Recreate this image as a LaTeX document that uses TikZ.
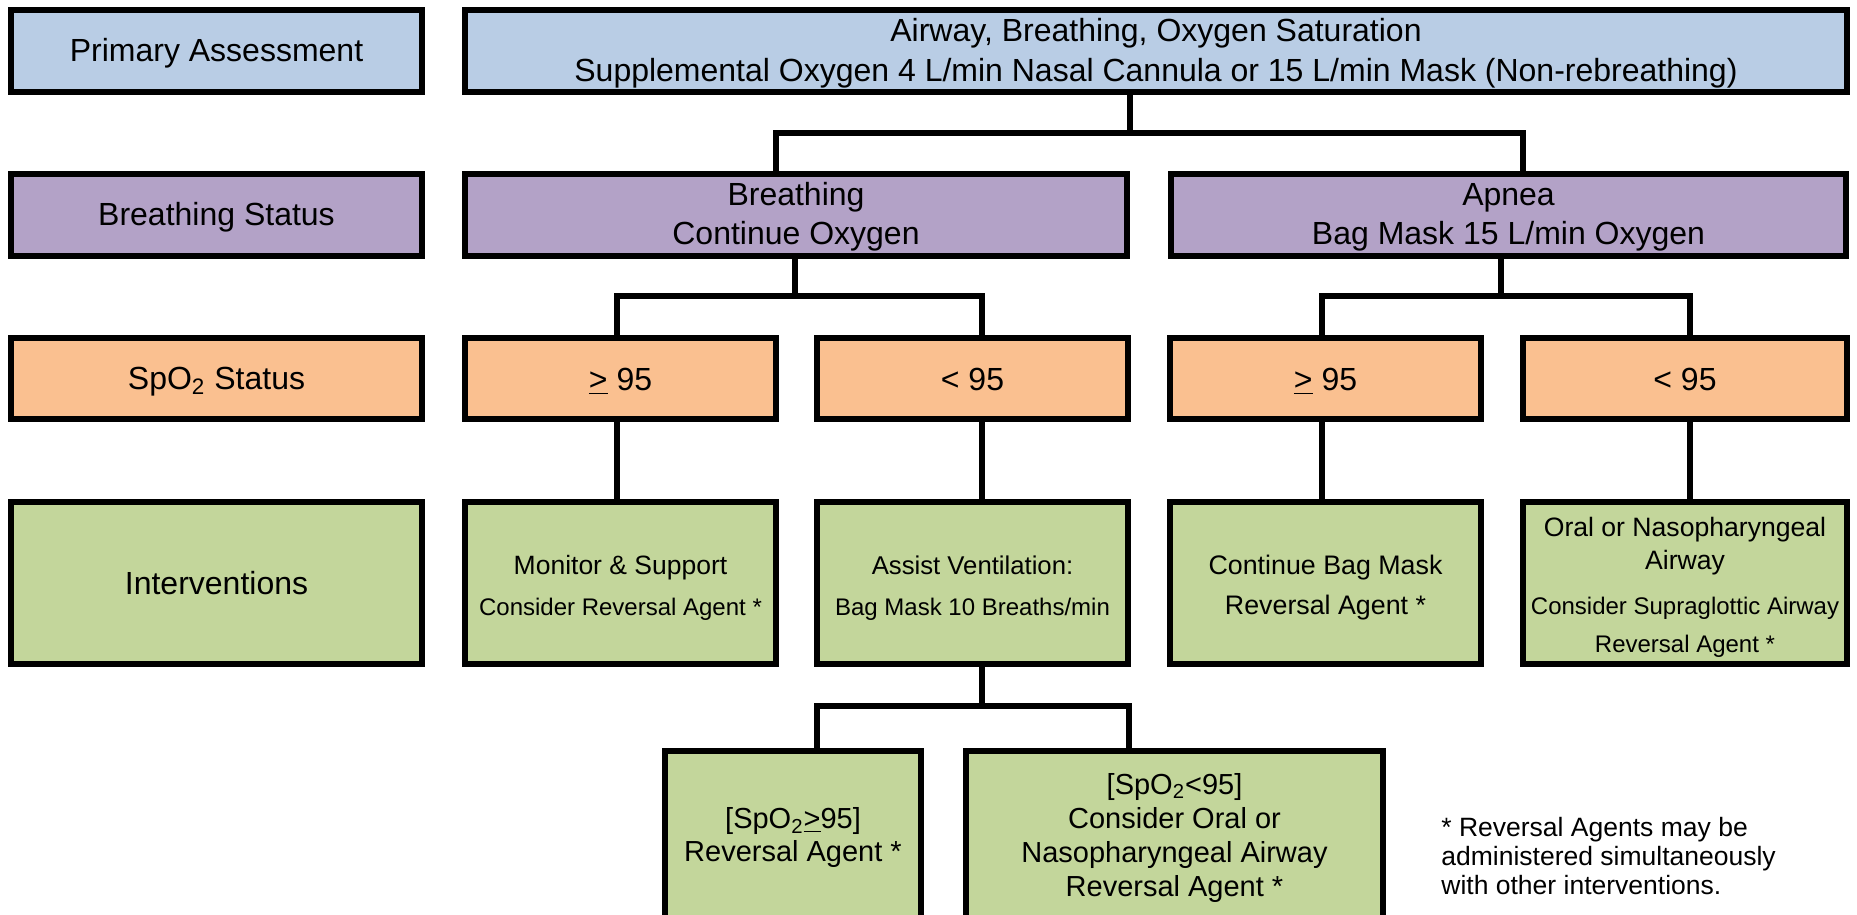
\documentclass[tikz,border=0pt]{standalone}
\usepackage{fontspec}
\setmainfont{Liberation Sans}
\definecolor{cblue}{HTML}{B9CDE5}
\definecolor{cpurple}{HTML}{B3A2C7}
\definecolor{corange}{HTML}{FAC090}
\definecolor{cgreen}{HTML}{C3D69B}
\newcommand{\fs}[2]{\fontsize{#1}{#2}\selectfont}
\newcommand{\tstrut}[1]{\rule{0pt}{#1}}
\newcommand{\bstrut}[1]{\rule[-#1]{0pt}{#1}}
\begin{document}
\begin{tikzpicture}[x=0.5pt,y=-0.5pt,
  box/.style={draw=black, line width=3pt, inner sep=0pt, align=center, font=\fs{16}{19.5}},
  bluebox/.style={box, fill=cblue, minimum height=41pt},
  purbox/.style={box, fill=cpurple, minimum height=41pt},
  orbox/.style={box, fill=corange, minimum height=40.5pt},
  grbox/.style={box, fill=cgreen, minimum height=81pt},
  lowbox/.style={box, fill=cgreen, minimum height=84pt},
  conn/.style={draw=black, line width=2.6pt, line join=miter}]
\clip (0,0) rectangle (1857,915);
\fill[white] (0,0) rectangle (1857,915);

% row 1
\node[bluebox, minimum width=205.5pt] (pa) at (216.5,51) {\tstrut{14.6pt}\bstrut{4pt}Primary Assessment};
\node[bluebox, minimum width=691pt, font=\fs{16}{20}] (top) at (1156,51)
  {\tstrut{14.7pt}Airway, Breathing, Oxygen Saturation\\Supplemental Oxygen 4 L/min Nasal Cannula or 15 L/min Mask (Non-rebreathing)\bstrut{4pt}};

% row 2
\node[purbox, minimum width=205.5pt] (bs) at (216.5,215) {\tstrut{14.6pt}\bstrut{4pt}Breathing Status};
\node[purbox, minimum width=331pt] (brth) at (796,215) {\tstrut{13.5pt}Breathing\\Continue Oxygen\bstrut{4pt}};
\node[purbox, minimum width=337.5pt] (apn) at (1508.5,215) {\tstrut{13.5pt}Apnea\\Bag Mask 15 L/min Oxygen\bstrut{4pt}};

% row 3
\node[orbox, minimum width=205.5pt] (ss) at (216.5,378.5) {\tstrut{15.2pt}\bstrut{4pt}SpO\textsubscript{2} Status};
\node[orbox, minimum width=155.5pt] (bge) at (620.5,378.5) {\tstrut{15.8pt}\bstrut{4pt}\underline{>} 95};
\node[orbox, minimum width=155.5pt] (blt) at (972.5,378.5) {\tstrut{15.8pt}\bstrut{4pt}< 95};
\node[orbox, minimum width=155.5pt] (age) at (1325.5,378.5) {\tstrut{15.8pt}\bstrut{4pt}\underline{>} 95};
\node[orbox, minimum width=162pt] (alt) at (1685,378.5) {\tstrut{15.8pt}\bstrut{4pt}< 95};

% row 4
\node[grbox, minimum width=205.5pt] (iv) at (216.5,583) {\tstrut{15pt}\bstrut{4pt}Interventions};
\node[grbox, minimum width=155.5pt, font=\fs{13.25}{20.75}] (ige) at (620.5,583)
  {\tstrut{15.8pt}Monitor \& Support\\{\fs{12}{20.75}Consider Reversal Agent *}\bstrut{4pt}};
\node[grbox, minimum width=155.5pt, font=\fs{12.85}{20.75}] (ilt) at (972.5,583)
  {\tstrut{15.8pt}Assist Ventilation:\\{\fs{12}{20.75}Bag Mask 10 Breaths/min}\bstrut{4pt}};
\node[grbox, minimum width=155.5pt, font=\fs{13.4}{20}] (iage) at (1325.5,583)
  {\tstrut{15.8pt}Continue Bag Mask\\Reversal Agent *\bstrut{4pt}};
\node[grbox, minimum width=162pt, font=\fs{13.3}{16.5}] (ialt) at (1685,583)
  {\tstrut{15.8pt}Oral or Nasopharyngeal\\Airway\\[6pt]{\fs{12}{16.5}Consider Supraglottic Airway}\\[2.5pt]{\fs{12}{16.5}Reversal Agent *}\bstrut{4pt}};

% row 5
\node[lowbox, minimum width=128pt, font=\fs{14.5}{16.5}] (bl) at (793,835)
  {\tstrut{14.3pt}[SpO\textsubscript{2}\underline{>}95]\\Reversal Agent *\bstrut{4pt}};
\node[lowbox, minimum width=208.5pt, font=\fs{14.5}{17}] (br) at (1174.5,835)
  {\tstrut{14.6pt}[SpO\textsubscript{2}<95]\\Consider Oral or\\Nasopharyngeal Airway\\Reversal Agent *\bstrut{4pt}};

% footnote
\node[anchor=west, align=left, inner sep=0pt, font=\fs{13.25}{14.5}] (fn) at (1441,856)
  {* Reversal Agents may be\\administered simultaneously\\with other interventions.};

% connector junctions
\coordinate (t1) at (1130,133);
\coordinate (t1l) at (776,133);
\coordinate (t1r) at (1523,133);
\coordinate (b1) at (795,296);
\coordinate (b1l) at (617,296);
\coordinate (b1r) at (982,296);
\coordinate (a1) at (1501,296);
\coordinate (a1l) at (1322,296);
\coordinate (a1r) at (1690,296);
\coordinate (s1) at (982,706);
\coordinate (s1l) at (817,706);
\coordinate (s1r) at (1129,706);

% connectors
\draw[conn] (top.south -| t1) -- (t1);
\draw[conn] (brth.north -| t1l) -- (t1l) -- (t1r) -- (apn.north -| t1r);
\draw[conn] (brth.south -| b1) -- (b1);
\draw[conn] (bge.north -| b1l) -- (b1l) -- (b1r) -- (blt.north -| b1r);
\draw[conn] (apn.south -| a1) -- (a1);
\draw[conn] (age.north -| a1l) -- (a1l) -- (a1r) -- (alt.north -| a1r);
\draw[conn] (bge.south -| b1l) -- (ige.north -| b1l);
\draw[conn] (blt.south -| b1r) -- (ilt.north -| b1r);
\draw[conn] (age.south -| a1l) -- (iage.north -| a1l);
\draw[conn] (alt.south -| a1r) -- (ialt.north -| a1r);
\draw[conn] (ilt.south -| s1) -- (s1);
\draw[conn] (bl.north -| s1l) -- (s1l) -- (s1r) -- (br.north -| s1r);
\end{tikzpicture}
\end{document}
